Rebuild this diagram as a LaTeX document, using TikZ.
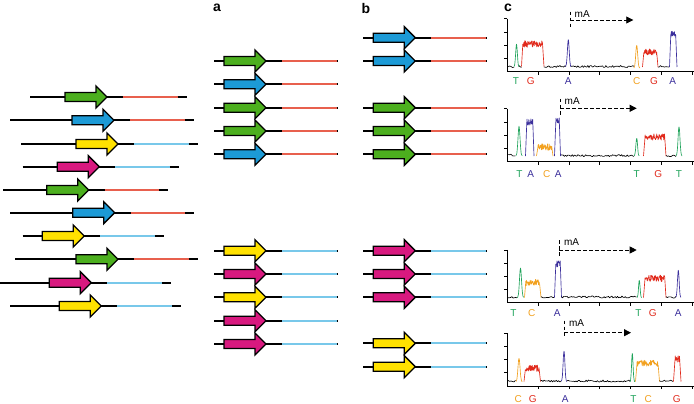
\documentclass[tikz,border=0pt]{standalone}
\usepackage{fontspec}
\setmainfont{Liberation Sans}
\usetikzlibrary{arrows.meta}
\definecolor{ggreen}{HTML}{4CAF1E}
\definecolor{gblue}{HTML}{1C9AD6}
\definecolor{gyellow}{HTML}{FFE100}
\definecolor{gmag}{HTML}{D8197F}
\definecolor{lred}{HTML}{E8604E}
\definecolor{lblue}{HTML}{78C8EA}
\definecolor{tgreen}{HTML}{1FA35A}
\definecolor{tred}{HTML}{E12A1C}
\definecolor{tpurp}{HTML}{3B2F9C}
\definecolor{torange}{HTML}{F2A11F}
\tikzset{
  dna/.style={line width=1.8pt},
  genearrow/.style={draw=black,line width=1.3pt,line join=miter},
  trace/.style={line width=0.65pt,line join=round},
  axisline/.style={line width=0.8pt},
  dashline/.style={line width=0.8pt,dash pattern=on 3.5pt off 2.5pt},
  baselab/.style={inner sep=0pt,font=\fontsize{10}{10}\selectfont},
  malab/.style={inner sep=0pt,anchor=west,font=\fontsize{10}{10}\selectfont},
  panellab/.style={inner sep=0pt,font=\bfseries\fontsize{14}{14}\selectfont}
}
% gene construct: line start, body start, y, fill, linecolour, tail
\newcommand\gene[6]{%
  \pgfmathsetmacro\tipx{#2+42}%
  \draw[dna] (#1,#3) -- (\tipx+16,#3);
  \draw[dna,#5] (\tipx+16,#3) -- (\tipx+70.5,#3);
  \draw[dna] (\tipx+70.5,#3) -- (\tipx+70.5+#6,#3);
  \draw[genearrow,fill=#4] (#2,#3-4.5) -- (#2+31,#3-4.5) -- (#2+31,#3-11) -- (\tipx,#3)
     -- (#2+31,#3+11) -- (#2+31,#3+4.5) -- (#2,#3+4.5) -- cycle;
}
% black noisy baseline: x1 x2 y
\newcommand\bline[3]{%
  \pgfmathtruncatemacro\ns{max(3,(#2-#1)/1.1)}%
  \draw[trace] plot[domain=#1:#2,samples=\ns] (\x,{#3+1.0*rand});
}
% coloured noisy block: colour x1 x2 base top
\newcommand\blk[5]{%
  \pgfmathtruncatemacro\ns{max(3,(#3-#2)/0.35)}%
  \draw[trace,#1] (#2,#4) -- plot[domain=#2+1.3:#3-1.3,samples=\ns] (\x,{#5+3.2*rand}) -- (#3,#4);
}
% coloured peak: colour x base top halfwidth
\newcommand\pk[5]{%
  \draw[trace,#1] plot[domain=#2-#5:#2+#5,samples=19] (\x,{#3-(#3-#4)*exp(0-((\x-#2)/(#5*0.45))^2)+0.5*rand});
}
% axes of a chromatogram: y of x axis
\newcommand\chaxes[1]{%
  \draw[axisline] (507.3,#1-52.8) -- (507.3,#1) -- (693.5,#1);
  \foreach \k in {1,...,4} \draw[axisline] (507.3,#1-13.2*\k) -- ++(-3.2,0);
  \foreach \k in {1,...,6} \draw[axisline] (507.3+30.8*\k,#1) -- ++(0,3.2);
}
% methylation marker: name x ytop ybot yh xend
\newcommand\marker[6]{%
  \draw[dashline] (#2,#3) -- (#2,#4);
  \draw[dashline,-{Triangle[length=7pt,width=7pt]}] (#2,#5) -- (#6,#5);
  \node[malab] (#1) at (#2+4.5,#3+2) {mA};
}
\begin{document}
\begin{tikzpicture}[x=1pt,y=-1pt]
\useasboundingbox[fill=white] (0,0) rectangle (694,404);
\pgfmathsetseed{7}
% panel letters
\node[panellab] (la) at (217,8) {a};
\node[panellab] (lb) at (366,8) {b};
\node[panellab] (lc) at (508,8) {c};
% left column
\gene{30}{65}{97}{ggreen}{lred}{9}
\gene{10}{72}{120.2}{gblue}{lred}{9}
\gene{21}{76}{144}{gyellow}{lblue}{9}
\gene{22.7}{57.3}{166.7}{gmag}{lblue}{9}
\gene{3.3}{46.7}{190}{ggreen}{lred}{9}
\gene{10}{72.7}{212.7}{gblue}{lred}{9}
\gene{22.7}{42.3}{236}{gyellow}{lblue}{9}
\gene{15}{76}{259.3}{ggreen}{lred}{9}
\gene{0}{49.3}{282.7}{gmag}{lblue}{9}
\gene{10}{59.3}{306}{gyellow}{lblue}{9}
% column a
\gene{214}{224}{61}{ggreen}{lred}{1.5}
\gene{214}{224}{84.3}{gblue}{lred}{1.5}
\gene{214}{224}{107.7}{ggreen}{lred}{1.5}
\gene{214}{224}{131}{ggreen}{lred}{1.5}
\gene{214}{224}{154.3}{gblue}{lred}{1.5}
\gene{214}{224}{250.7}{gyellow}{lblue}{1.5}
\gene{214}{224}{274}{gmag}{lblue}{1.5}
\gene{214}{224}{297.3}{gyellow}{lblue}{1.5}
\gene{214}{224}{320.7}{gmag}{lblue}{1.5}
\gene{214}{224}{344}{gmag}{lblue}{1.5}
% column b
\gene{363.3}{373.3}{37.7}{gblue}{lred}{1.5}
\gene{363.3}{373.3}{61}{gblue}{lred}{1.5}
\gene{363.3}{373.3}{107.7}{ggreen}{lred}{1.5}
\gene{363.3}{373.3}{131}{ggreen}{lred}{1.5}
\gene{363.3}{373.3}{154.3}{ggreen}{lred}{1.5}
\gene{363.3}{373.3}{250.7}{gmag}{lblue}{1.5}
\gene{363.3}{373.3}{274}{gmag}{lblue}{1.5}
\gene{363.3}{373.3}{297.3}{gmag}{lblue}{1.5}
\gene{363.3}{373.3}{343.3}{gyellow}{lblue}{1.5}
\gene{363.3}{373.3}{366.7}{gyellow}{lblue}{1.5}
% ---------- chromatogram 1 ----------
\chaxes{71.7}
\bline{508}{514}{66.5}
\pk{tgreen}{516.5}{66.5}{44}{2.6}
\bline{519}{521.5}{66.5}
\blk{tred}{521.5}{544}{66.5}{44}
\bline{544}{566}{66.5}
\pk{tpurp}{568.3}{66.5}{39.5}{2.8}
\bline{571}{634}{66.5}
\pk{torange}{636.7}{68}{45}{3}
\blk{tred}{642.5}{658}{67}{52}
\bline{658}{669.5}{66.5}
\blk{tpurp}{669.5}{677}{67}{34}
\marker{ma1}{570}{11.7}{26.7}{20}{633.3}
\node[baselab,tgreen] (t1a) at (516,81) {T};
\node[baselab,tred] (t1b) at (530.7,81) {G};
\node[baselab,tpurp] (t1c) at (568.3,81) {A};
\node[baselab,torange] (t1d) at (636.7,81) {C};
\node[baselab,tred] (t1e) at (654,81) {G};
\node[baselab,tpurp] (t1f) at (672.7,81) {A};
% ---------- chromatogram 2 ----------
\chaxes{161.7}
\bline{508}{515.5}{155}
\pk{tgreen}{519}{156}{126.7}{3.2}
\blk{tpurp}{525.5}{534}{156}{122}
\blk{torange}{536.5}{553}{156}{147}
\blk{tpurp}{554.5}{560.5}{156}{121}
\bline{561}{634}{155.7}
\pk{tgreen}{636.7}{156}{138}{2.6}
\blk{tred}{643.5}{666}{156}{137}
\bline{666}{676}{155.7}
\pk{tgreen}{679}{156}{126.7}{3}
\marker{ma2}{560}{99}{115}{108.3}{636.7}
\node[baselab,tgreen] (t2a) at (519.3,174) {T};
\node[baselab,tpurp] (t2b) at (530.7,174) {A};
\node[baselab,torange] (t2c) at (546.7,174) {C};
\node[baselab,tpurp] (t2d) at (558.3,174) {A};
\node[baselab,tgreen] (t2e) at (636.7,174) {T};
\node[baselab,tred] (t2f) at (658.3,174) {G};
\node[baselab,tgreen] (t2g) at (679,174) {T};
% ---------- chromatogram 3 ----------
\chaxes{302.7}
\bline{508}{517}{297.3}
\pk{tgreen}{520.5}{297.5}{268.3}{3.2}
\blk{torange}{524.5}{541}{297.5}{282.7}
\bline{541}{554}{297.3}
\blk{tpurp}{554.5}{561.5}{297.5}{264}
\bline{561.5}{636.5}{297}
\pk{tgreen}{639.3}{297.5}{280}{2.3}
\blk{tred}{643.5}{666}{297.5}{278.3}
\bline{666}{676}{297.3}
\pk{tpurp}{678.3}{297.5}{270}{2.6}
\marker{ma3}{559.3}{240}{256.7}{250}{636.7}
\node[baselab,tgreen] (t3a) at (513.3,312.7) {T};
\node[baselab,torange] (t3b) at (531.7,312.7) {C};
\node[baselab,tpurp] (t3c) at (557.3,312.7) {A};
\node[baselab,tgreen] (t3d) at (638.3,312.7) {T};
\node[baselab,tred] (t3e) at (652.7,312.7) {G};
\node[baselab,tpurp] (t3f) at (678.3,312.7) {A};
% ---------- chromatogram 4 ----------
\chaxes{386}
\bline{508}{515.5}{381}
\pk{torange}{519}{381.5}{358.3}{3.2}
\blk{tred}{524}{540.5}{381.5}{368.3}
\bline{540.5}{561}{381}
\pk{tpurp}{564}{381.5}{351}{2.8}
\bline{567}{630}{381}
\pk{tgreen}{632.3}{381.5}{353.3}{2.3}
\blk{torange}{635.5}{659.5}{381.5}{363.3}
\bline{659.5}{673}{381}
\blk{tred}{673.5}{681}{381.5}{359}
\marker{ma4}{564.3}{320.7}{338.3}{332.7}{631}
\node[baselab,torange] (t4a) at (518.3,399.3) {C};
\node[baselab,tred] (t4b) at (532.7,399.3) {G};
\node[baselab,tpurp] (t4c) at (565.3,399.3) {A};
\node[baselab,tgreen] (t4d) at (633.3,399.3) {T};
\node[baselab,torange] (t4e) at (648.3,399.3) {C};
\node[baselab,tred] (t4f) at (676.7,399.3) {G};
\end{tikzpicture}
\end{document}
